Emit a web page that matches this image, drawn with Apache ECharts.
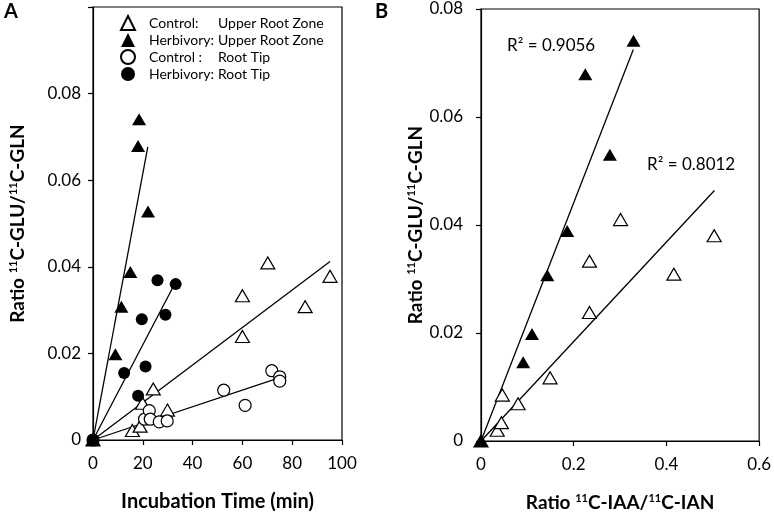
<!DOCTYPE html>
<html>
<head>
<meta charset="utf-8">
<script src="https://cdn.jsdelivr.net/npm/echarts@6/dist/echarts.min.js"></script>
<style>html,body{margin:0;padding:0;background:#fff}#c{width:774px;height:517px}</style>
</head>
<body>
<div id="c"></div>
<script>
// ---- Panel A data: [incubation time (min), ratio GLU/GLN]
const ctrlUpperA = [[0,0],[15.8,0.0022],[18.9,0.0032],[19.9,0.0085],[24.2,0.0118],[29.9,0.0069],[60,0.0239],[60,0.0333],[70.2,0.0409],[85.2,0.0308],[95.2,0.0378]];
const herbUpperA = [[0,0],[9.0,0.0198],[11.4,0.0308],[15.0,0.0388],[22.1,0.0528],[18.1,0.0679],[18.5,0.0741]];
const ctrlTipA = [[0,0],[20.7,0.0048],[22.6,0.0068],[23.0,0.0048],[26.6,0.0042],[29.8,0.0044],[52.5,0.0115],[61.1,0.0080],[71.8,0.0160],[75.0,0.0146],[75.0,0.0136]];
const herbTipA = [[0,0],[12.5,0.0155],[18.1,0.0102],[19.6,0.0279],[21.1,0.0170],[25.9,0.0369],[29.1,0.0289],[33.2,0.0360]];
// trend lines A
const fitCtrlUpperA = [[0,0],[95.2,0.0412]];
const fitHerbUpperA = [[0,0],[22.0,0.0677]];
const fitCtrlTipA = [[0,0],[73.8,0.0142]];
const fitHerbTipA = [[0,0],[32.2,0.0354]];
// ---- Panel B data: [ratio IAA/IAN, ratio GLU/GLN]
const ctrlB = [[0,0],[0.035,0.0020],[0.044,0.0034],[0.046,0.0085],[0.080,0.0069],[0.149,0.0117],[0.234,0.0238],[0.234,0.0333],[0.301,0.0410],[0.416,0.0309],[0.503,0.0380]];
const herbB = [[0,0],[0.091,0.0146],[0.110,0.0198],[0.143,0.0307],[0.186,0.0389],[0.225,0.0679],[0.278,0.0530],[0.329,0.0741]];
const fitCtrlB = [[0,0],[0.5036,0.0464]];
const fitHerbB = [[0,0],[0.3286,0.0725]];
const r2Labels = ['R\u00B2 = 0.9056','R\u00B2 = 0.8012'];
const legendNames = ['Control: Upper Root Zone','Herbivory: Upper Root Zone','Control : Root Tip','Herbivory: Root Tip'];
const legendGroups = ['Control:','Herbivory:','Control :','Herbivory:'];
const legendParts = ['Upper Root Zone','Upper Root Zone','Root Tip','Root Tip'];

const FF = 'Lato, "Noto Sans", sans-serif';
const chart = echarts.init(document.getElementById('c'), null, {renderer:'canvas'});

function yName(a, b){
  return '{b|Ratio }{s|11}{b|C-' + a + '/}{s|11}{b|C-' + b + '}';
}
const richName = {
  b:{fontSize:19,fontWeight:'bold',fontFamily:FF,color:'#000'},
  s:{fontSize:11,fontWeight:'bold',fontFamily:FF,color:'#000',verticalAlign:'top'}
};
const axisBase = {
  axisLine:{show:true,onZero:false,lineStyle:{color:'#000',width:1.2}},
  axisTick:{show:true,inside:false,length:5,lineStyle:{color:'#000',width:1.2}},
  splitLine:{show:false},
  axisLabel:{color:'#000',fontSize:17,fontFamily:FF}
};
function open(sym, size){
  return {type:'scatter',symbol:sym,symbolSize:size,itemStyle:{color:'#fff',borderColor:'#000',borderWidth:1.2,opacity:1},z:5};
}
function filled(sym, size){
  return {type:'scatter',symbol:sym,symbolSize:size,itemStyle:{color:'#000',borderColor:'#000',borderWidth:0,opacity:1},z:6};
}
function fit(data, xi){
  return {type:'line',data:data,xAxisIndex:xi,yAxisIndex:xi,showSymbol:false,symbol:'none',lineStyle:{color:'#000',width:1.3},z:3,silent:true};
}

const option = {
  animation:false,
  backgroundColor:'#fff',
  grid:[
    {left:93,top:7,width:249,height:435,show:true,borderColor:'#000',borderWidth:1.2,backgroundColor:'transparent'},
    {left:481,top:9,width:280,height:433,show:true,borderColor:'#000',borderWidth:1.2,backgroundColor:'transparent'}
  ],
  xAxis:[
    Object.assign({}, axisBase, {type:'value',gridIndex:0,min:0,max:100,interval:20,
      axisLabel:Object.assign({}, axisBase.axisLabel, {margin:15}),
      name:'Incubation Time (min)',nameLocation:'middle',nameGap:52,
      nameTextStyle:{fontSize:20,fontWeight:'bold',fontFamily:FF,color:'#000'}}),
    Object.assign({}, axisBase, {type:'value',gridIndex:1,min:0,max:0.6,interval:0.2,
      axisLabel:Object.assign({}, axisBase.axisLabel, {margin:15,formatter:v=>v===0?'0':String(+v.toFixed(1))}),
      name:'{b|Ratio }{s|11}{b|C-IAA/}{s|11}{b|C-IAN}',nameLocation:'middle',nameGap:52,
      nameTextStyle:{rich:richName}})
  ],
  yAxis:[
    Object.assign({}, axisBase, {type:'value',gridIndex:0,min:0,max:0.1,interval:0.02,
      axisLabel:Object.assign({}, axisBase.axisLabel, {margin:12,formatter:v=>v===0?'0':(v>0.09?'':v.toFixed(2))}),
      name:yName('GLU','GLN'),nameLocation:'middle',nameGap:66,nameRotate:90,
      nameTextStyle:{rich:richName}}),
    Object.assign({}, axisBase, {type:'value',gridIndex:1,min:0,max:0.08,interval:0.02,
      axisLabel:Object.assign({}, axisBase.axisLabel, {margin:18,formatter:v=>v===0?'0':v.toFixed(2)}),
      name:yName('GLU','GLN'),nameLocation:'middle',nameGap:56,nameRotate:90,
      nameTextStyle:{rich:richName}})
  ],
  legend:{
    orient:'vertical',left:115,top:10,itemWidth:14,itemHeight:14,itemGap:1,
    data:legendNames,
    formatter:function(n){const i=legendNames.indexOf(n);return '{a|'+legendGroups[i]+'}{c|'+legendParts[i]+'}';},
    textStyle:{fontSize:14,fontFamily:FF,color:'#000',lineHeight:16,
      rich:{a:{fontSize:14,fontFamily:FF,color:'#000',width:69,padding:[0,0,0,9]},c:{fontSize:14,fontFamily:FF,color:'#000'}}}
  },
  graphic:[
    {type:'text',left:4,top:2,style:{text:'A',font:'bold 20px '+FF,fill:'#000'}},
    {type:'text',left:375,top:2,style:{text:'B',font:'bold 20px '+FF,fill:'#000'}},
    {type:'text',left:507,top:37,style:{text:r2Labels[0],font:'17px '+FF,fill:'#000'}},
    {type:'text',left:647,top:156,style:{text:r2Labels[1],font:'17px '+FF,fill:'#000'}}
  ],
  series:[
    fit(fitCtrlUpperA,0), fit(fitHerbUpperA,0), fit(fitCtrlTipA,0), fit(fitHerbTipA,0),
    Object.assign(open('triangle',[14,12]),{name:legendNames[0],data:ctrlUpperA,xAxisIndex:0,yAxisIndex:0}),
    Object.assign(filled('triangle',[14,12]),{name:legendNames[1],data:herbUpperA,xAxisIndex:0,yAxisIndex:0}),
    Object.assign(open('circle',12),{name:legendNames[2],data:ctrlTipA,xAxisIndex:0,yAxisIndex:0}),
    Object.assign(filled('circle',12),{name:legendNames[3],data:herbTipA,xAxisIndex:0,yAxisIndex:0}),
    fit(fitCtrlB,1), fit(fitHerbB,1),
    Object.assign(open('triangle',[14,12]),{name:'Control B',data:ctrlB,xAxisIndex:1,yAxisIndex:1}),
    Object.assign(filled('triangle',[14,12]),{name:'Herbivory B',data:herbB,xAxisIndex:1,yAxisIndex:1})
  ]
};
chart.setOption(option);
</script>
</body>
</html>
